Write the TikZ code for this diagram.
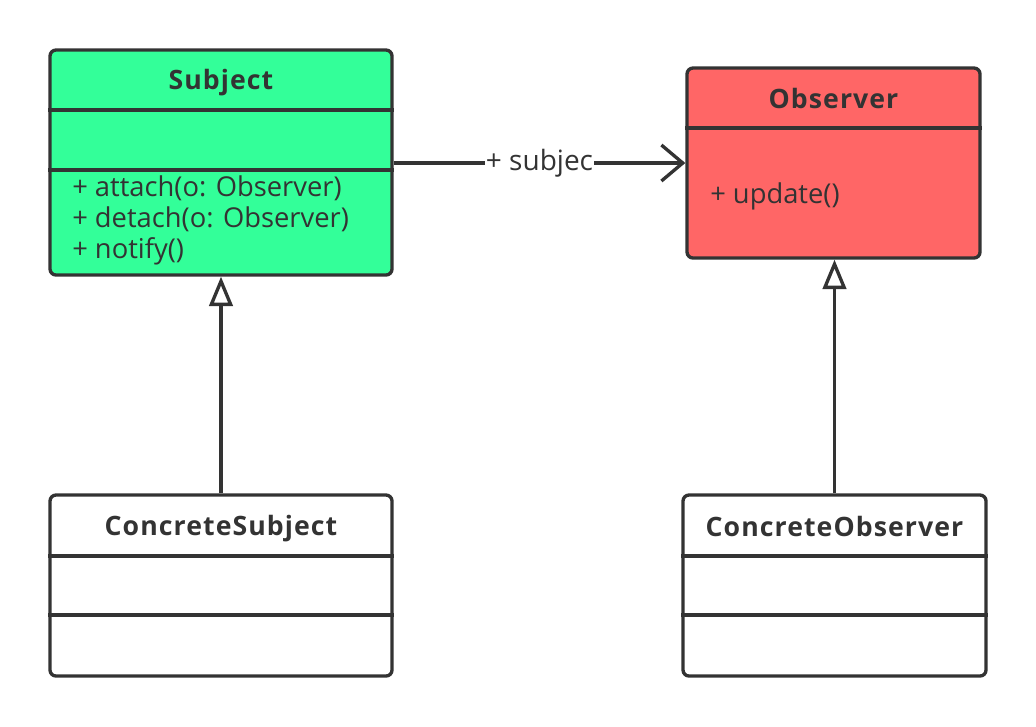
\documentclass[tikz,border=0pt]{standalone}
\usepackage{fontspec}
\setmainfont{Open Sans}
\newfontfamily\titlefont{Open Sans}[LetterSpace=4]
\usetikzlibrary{arrows.meta}
\definecolor{ink}{HTML}{333333}
\definecolor{subjgreen}{HTML}{33FF99}
\definecolor{obsred}{HTML}{FF6666}
\tikzset{
  classbox/.style={draw=ink, line width=2.5pt, rounded corners=4.5pt, inner sep=0pt},
  divider/.style={draw=ink, line width=2.5pt},
  titletext/.style={text=ink, font=\titlefont\bfseries\fontsize{20}{24}\selectfont},
  membertext/.style={text=ink, font=\fontsize{20.5}{24}\selectfont, anchor=west, inner sep=0pt},
  assoc/.style={draw=ink, line width=2.5pt, -{Straight Barb[length=16pt, width=27pt, line width=2.5pt]}},
  inherit/.style={draw=ink, line width=2.5pt, -{Triangle[open, length=22pt, width=17.5pt, line width=2.5pt, fill=white]}},
  lbl/.style={text=ink, fill=white, inner sep=1pt, font=\fontsize{21}{24}\selectfont}
}
\begin{document}
\begin{tikzpicture}[x=0.75pt, y=-0.75pt]
\useasboundingbox (0,0) rectangle (1036,726);
% boxes
\node[classbox, fill=subjgreen, minimum width=256.5pt, minimum height=168.75pt] (subj) at (221,162.5) {};
\node[classbox, fill=obsred, minimum width=219.75pt, minimum height=142.5pt] (obs) at (833.5,163) {};
\node[classbox, fill=white, minimum width=256.5pt, minimum height=135.75pt] (csub) at (221,585.5) {};
\node[classbox, fill=white, minimum width=227.25pt, minimum height=135.75pt] (cobs) at (834.5,585.5) {};
% dividers
\draw[divider] (subj.west |- 0,110) -- (subj.east |- 0,110);
\draw[divider] (subj.west |- 0,170) -- (subj.east |- 0,170);
\draw[divider] (obs.west |- 0,128) -- (obs.east |- 0,128);
\draw[divider] (csub.west |- 0,556) -- (csub.east |- 0,556);
\draw[divider] (csub.west |- 0,615) -- (csub.east |- 0,615);
\draw[divider] (cobs.west |- 0,556) -- (cobs.east |- 0,556);
\draw[divider] (cobs.west |- 0,615) -- (cobs.east |- 0,615);
% titles
\node[titletext] (subjt) at (221,83) {Subject};
\node[titletext] (obst) at (833.5,98) {Observer};
\node[titletext] (csubt) at (221,529) {ConcreteSubject};
\node[titletext] (cobst) at (834.5,526) {ConcreteObserver};
% members
\node[membertext] (m1) at (72,188) {+ attach(o: Observer)};
\node[membertext] (m2) at (72,219) {+ detach(o: Observer)};
\node[membertext] (m3) at (72,251) {+ notify()};
\node[membertext] (m4) at (710,196) {+ update()};
% connectors
\draw[assoc] (subj.east |- 0,163) -- node[lbl] (al) {+ subjec} (obs.west |- 0,163);
\draw[inherit] (csub.north) -- (subj.south);
\draw[inherit] (cobs.north) -- (cobs.north |- obs.south);
\end{tikzpicture}
\end{document}
